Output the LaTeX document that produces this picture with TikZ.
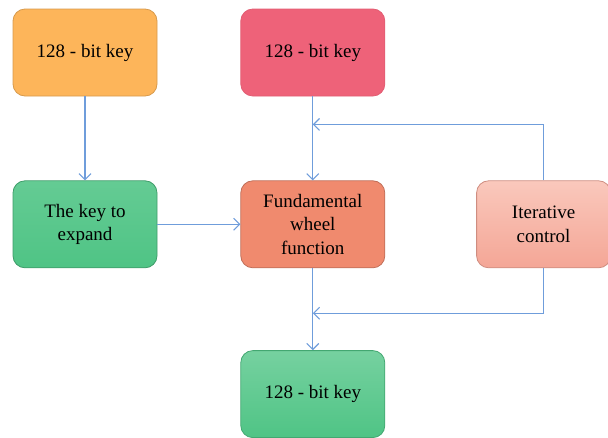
\documentclass[tikz,border=0pt]{standalone}
\usepackage{fontspec}
\setmainfont{Liberation Serif}
\usepackage{tikz}
\usetikzlibrary{arrows.meta,positioning}
\definecolor{keyorange}{HTML}{FDB55A}
\definecolor{keyred}{HTML}{EE6279}
\definecolor{keygreen}{HTML}{4FC485}
\definecolor{wheelcol}{HTML}{F08A6E}
\definecolor{itertop}{HTML}{FAC8BC}
\definecolor{iterbot}{HTML}{F4A696}
\definecolor{linkcol}{HTML}{6F9DDB}

\begin{document}
\begin{tikzpicture}[x=1pt,y=-1pt,
  font=\fontsize{19}{23.5}\selectfont,
  n/.style={rounded corners=12pt,minimum width=144pt,minimum height=87pt,
            align=center,inner sep=4pt,line width=0.8pt},
  ar/.style={-{Straight Barb[length=6pt,width=12pt,line width=1.1pt]},line width=1.2pt,linkcol},
]
\useasboundingbox (0,0) rectangle (608,437);

\node[n,fill=keyorange,draw=keyorange!85!black] at (85,52.5) (keyin) {128 - bit key};
\node[n,fill=keyred,draw=keyred!95!black,right=83pt of keyin] (keyrnd) {128 - bit key};
\node[n,top color=keygreen!88!white,bottom color=keygreen,draw=keygreen!80!black,
      below=84pt of keyin] (expand) {The key to\\ expand};
\node[n,fill=wheelcol,draw=wheelcol!80!black,right=83pt of expand] (wheel)
  {Fundamental\\ wheel\\ function};
\node[n,minimum width=134pt,top color=itertop,bottom color=iterbot,
      draw=iterbot!85!black,right=91pt of wheel] (iter) {Iterative\\ control};
\node[n,top color=keygreen!78!white,bottom color=keygreen,
      draw=keygreen!85!black,below=82pt of wheel] (keyout) {128 - bit key};

\coordinate[above=56pt of iter.north] (loopin);
\coordinate[below=45pt of iter.south] (loopout);

\draw[ar] (keyin) -- (expand);
\draw[ar] (expand) -- (wheel);
\draw[ar] (keyrnd) -- (wheel);
\draw[ar] (wheel) -- (keyout);
\draw[ar] (iter.north) |- (loopin -| wheel.north);
\draw[ar] (iter.south) |- (loopout -| wheel.south);
\end{tikzpicture}
\end{document}
